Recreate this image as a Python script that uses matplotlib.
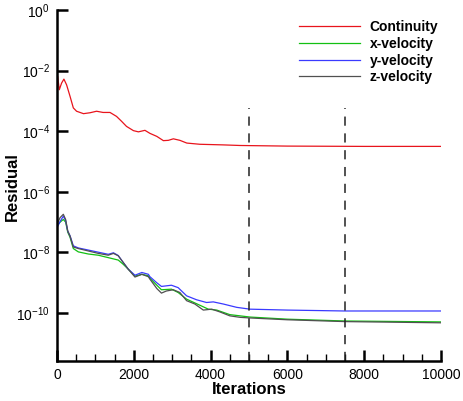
import numpy as np
import matplotlib
matplotlib.use("Agg")
import matplotlib.pyplot as plt
from matplotlib.ticker import FixedLocator, FuncFormatter, MultipleLocator

plt.rcParams['font.family'] = ['Liberation Sans', 'DejaVu Sans']
plt.rcParams['mathtext.fontset'] = 'custom'
plt.rcParams['mathtext.rm'] = 'Liberation Sans'
plt.rcParams['mathtext.it'] = 'Liberation Sans'
plt.rcParams['mathtext.bf'] = 'Liberation Sans:bold'

# ---- data (iteration, log10 residual) ----
cont_it = [0, 17, 60, 120, 180, 250, 340, 425, 510, 690, 860, 1030, 1200, 1380, 1550,
           1680, 1810, 1990, 2120, 2290, 2420, 2600, 2770, 2900, 3030, 3200, 3380, 3720,
           4320, 4770, 6000, 8000, 10000]
cont_lg = [-2.12, -2.19, -2.63, -2.41, -2.28, -2.47, -2.85, -3.23, -3.34, -3.42, -3.39,
           -3.34, -3.38, -3.38, -3.51, -3.67, -3.84, -3.98, -4.02, -3.97, -4.07, -4.17,
           -4.31, -4.3, -4.25, -4.3, -4.39, -4.43, -4.45, -4.47, -4.49, -4.5, -4.5]

yv_it = [0, 80, 165, 225, 280, 340, 425, 555, 815, 1075, 1335, 1470, 1595, 1725, 1855,
         2030, 2210, 2380, 2420, 2600, 2720, 2980, 3155, 3375, 3635, 3895, 4070, 4330,
         4680, 5025, 6000, 7500, 10000]
yv_lg = [-7.18, -6.98, -6.8, -6.95, -7.3, -7.45, -7.78, -7.85, -7.92, -7.99, -8.06, -8.01,
         -8.1, -8.33, -8.55, -8.75, -8.66, -8.72, -8.8, -9.0, -9.12, -9.08, -9.16, -9.43,
         -9.56, -9.65, -9.63, -9.7, -9.81, -9.87, -9.9, -9.93, -9.93]

zv_it = [0, 80, 165, 225, 280, 340, 425, 555, 815, 1075, 1335, 1470, 1595, 1725, 1855,
         2030, 2210, 2380, 2420, 2600, 2720, 2850, 3030, 3200, 3375, 3590, 3810, 4030,
         4240, 4500, 4770, 5025, 6000, 7500, 10000]
zv_lg = [-7.07, -6.85, -6.74, -6.91, -7.29, -7.46, -7.82, -7.87, -7.95, -8.03, -8.09, -8.03,
         -8.11, -8.33, -8.55, -8.81, -8.72, -8.8, -8.88, -9.19, -9.34, -9.27, -9.23, -9.32,
         -9.59, -9.7, -9.9, -9.87, -9.96, -10.09, -10.14, -10.16, -10.22, -10.28, -10.32]

xv_it = [0, 80, 165, 225, 280, 340, 425, 555, 815, 1075, 1335, 1595, 1725, 1855, 2030,
         2210, 2380, 2420, 2600, 2720, 2980, 3155, 3375, 3720, 3940, 4160, 4500, 5025,
         6000, 7500, 10000]
xv_lg = [-7.12, -7.0, -6.91, -7.0, -7.33, -7.5, -7.87, -7.98, -8.05, -8.09, -8.17, -8.25,
         -8.39, -8.55, -8.78, -8.72, -8.77, -8.85, -9.08, -9.23, -9.21, -9.32, -9.54, -9.74,
         -9.87, -9.9, -10.05, -10.13, -10.2, -10.26, -10.29]

labels = ['Continuity', 'x-velocity', 'y-velocity', 'z-velocity']
vlines_x = [5000, 7500]
yticks_exp = [0, -2, -4, -6, -8, -10]

fig = plt.figure(figsize=(4.63, 4.01), dpi=100)
ax = fig.add_axes([57/463, 40/401, (441-57)/463, (361-10)/401])

lw = 0.9
ax.plot(cont_it, 10.0**np.array(cont_lg), color='#e8141c', lw=lw, label=labels[0])
ax.plot(xv_it, 10.0**np.array(xv_lg), color='#12c012', lw=lw, label=labels[1])
ax.plot(yv_it, 10.0**np.array(yv_lg), color='#3a3aff', lw=lw, label=labels[2])
ax.plot(zv_it, 10.0**np.array(zv_lg), color='#505050', lw=lw, label=labels[3])

for xv in vlines_x:
    ax.plot([xv, xv], [10**-11.58, 6e-4], color='#222222', lw=1.1, dashes=(6, 5))

ax.set_yscale('log')
ax.set_xlim(0, 10000)
ax.set_ylim(10**-11.58, 1)
ax.yaxis.set_major_locator(FixedLocator([10.0**e for e in yticks_exp]))
ax.yaxis.set_minor_locator(FixedLocator([]))
ax.yaxis.set_major_formatter(FuncFormatter(
    lambda v, p: r'$\mathregular{10^{%d}}$' % round(np.log10(v))))
ax.xaxis.set_major_locator(MultipleLocator(2000))
ax.xaxis.set_minor_locator(MultipleLocator(500))

for s in ['top', 'right']:
    ax.spines[s].set_visible(False)
for s in ['left', 'bottom']:
    ax.spines[s].set_linewidth(1.8)

ax.tick_params(which='major', direction='in', length=8, width=1.8, labelsize=10, pad=5)
ax.tick_params(which='minor', direction='in', length=5, width=1.0)

ax.set_xlabel('Iterations', fontsize=12, fontweight='bold', labelpad=0)
ax.set_ylabel('Residual', fontsize=12, fontweight='bold')
ax.yaxis.set_label_coords(-0.096, 0.496)

leg = ax.legend(loc='upper left', bbox_to_anchor=(299/463, 1 - 20/401),
                bbox_transform=fig.transFigure, frameon=False, borderpad=0,
                handlelength=4.4, handletextpad=0.7, labelspacing=0.2,
                borderaxespad=0, prop={'weight': 'bold', 'size': 10})

fig.savefig('out.png', dpi=100)
